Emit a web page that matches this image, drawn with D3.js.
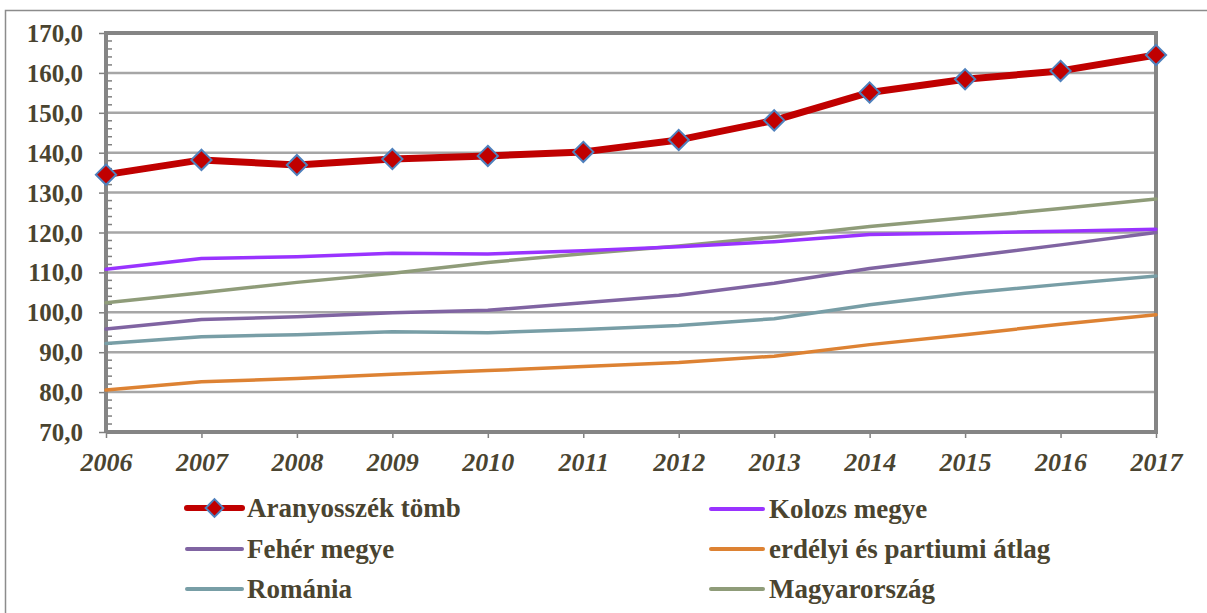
<!DOCTYPE html>
<html><head><meta charset="utf-8">
<script src="https://cdn.jsdelivr.net/npm/d3@7"></script>
<style>html,body{margin:0;padding:0;background:#fff;}</style>
</head><body>
<svg id="c" width="1207" height="613"></svg>
<script>
const years = [2006,2007,2008,2009,2010,2011,2012,2013,2014,2015,2016,2017];
const aranyosszek = [134.5,138.2,136.9,138.4,139.2,140.2,143.2,148.1,155.1,158.4,160.5,164.5];
const kolozs      = [110.8,113.5,113.9,114.8,114.6,115.4,116.4,117.7,119.5,119.9,120.3,120.8];
const feher       = [95.8,98.2,98.9,99.9,100.5,102.4,104.3,107.3,111.0,113.9,116.9,120.0];
const erdelyi     = [80.5,82.6,83.4,84.5,85.4,86.4,87.4,89.0,91.9,94.4,97.0,99.4];
const romania     = [92.2,93.9,94.4,95.1,94.9,95.7,96.7,98.4,101.9,104.8,107.0,109.1];
const magyar      = [102.4,104.9,107.5,109.8,112.5,114.7,116.6,118.9,121.5,123.7,126.0,128.4];
const yTicks = [70,80,90,100,110,120,130,140,150,160,170];
const seriesNames = ["Aranyosszék tömb","Kolozs megye","Fehér megye","erdélyi és partiumi átlag","Románia","Magyarország"];

const colors = {
  "Aranyosszék tömb":"#c00000",
  "Kolozs megye":"#9933ff",
  "Fehér megye":"#8064a2",
  "erdélyi és partiumi átlag":"#dd8233",
  "Románia":"#789ea6",
  "Magyarország":"#8f9c79"
};
const seriesData = {
  "Aranyosszék tömb":aranyosszek,
  "Kolozs megye":kolozs,
  "Fehér megye":feher,
  "erdélyi és partiumi átlag":erdelyi,
  "Románia":romania,
  "Magyarország":magyar
};
const textColor = "#4a4430";
const FONT = '"Liberation Serif"';
const svg = d3.select("#c");
const L=106, R=1156, T=33, B=432;
const x = d3.scalePoint().domain(years).range([L,R]);
const y = d3.scaleLinear().domain([70,170]).range([B,T]);

// outer border
svg.append("rect").attr("x",5.5).attr("y",10.5).attr("width",1220).attr("height",620)
  .attr("fill","#fff").attr("stroke","#8c8c8c").attr("stroke-width",1.5);

// gridlines
svg.append("g").selectAll("line").data(yTicks.filter(v=>v>70 && v<170)).join("line")
  .attr("x1",L).attr("x2",R).attr("y1",d=>y(d)).attr("y2",d=>y(d))
  .attr("stroke","#a6a6a6").attr("stroke-width",2.5);

// minor ticks inside left axis
const minor = d3.range(72,170,2).filter(v=>v%10!==0);
svg.append("g").selectAll("line").data(minor).join("line")
  .attr("x1",L).attr("x2",L+6).attr("y1",d=>y(d)).attr("y2",d=>y(d))
  .attr("stroke","#808080").attr("stroke-width",1.5);

// y axis
const fmt = d=>d3.format(".1f")(d).replace(".",",");
const yAxis = svg.append("g").attr("transform",`translate(${L},0)`)
  .call(d3.axisLeft(y).tickValues(yTicks).tickFormat(fmt).tickSize(7).tickPadding(16));
yAxis.attr("font-family",null).attr("font-size",null);
yAxis.select(".domain").remove();
yAxis.selectAll(".tick line").attr("stroke","#808080").attr("stroke-width",1.5);
yAxis.selectAll(".tick text").attr("fill",textColor).style("font-family",FONT)
  .style("font-weight","bold").style("font-size","25px").attr("dy","0.34em");

// x axis
const xAxis = svg.append("g").attr("transform",`translate(0,${B})`)
  .call(d3.axisBottom(x).tickSize(6).tickPadding(15));
xAxis.attr("font-family",null).attr("font-size",null);
xAxis.select(".domain").remove();
xAxis.selectAll(".tick line").attr("stroke","#808080").attr("stroke-width",1.5);
xAxis.selectAll(".tick text").attr("fill",textColor).style("font-family",FONT)
  .style("font-weight","bold").style("font-style","italic").style("font-size","26px");

// plot border
svg.append("path").attr("d",`M${L},${B}L${L},${T}L${R},${T}L${R},${B}L${L},${B}`)
  .attr("fill","none").attr("stroke","#858585").attr("stroke-width",4).attr("stroke-linejoin","miter");

// lines
const line = d3.line().x((d,i)=>x(years[i])).y(d=>y(d));
const drawOrder = ["Magyarország","Románia","erdélyi és partiumi átlag","Fehér megye","Kolozs megye","Aranyosszék tömb"];
drawOrder.forEach(name=>{
  const main = name==="Aranyosszék tömb";
  svg.append("path").datum(seriesData[name]).attr("d",line)
    .attr("fill","none").attr("stroke",colors[name]).attr("stroke-width",main?7:3.5)
    .attr("stroke-linejoin","round").attr("stroke-linecap","round");
});
const diamond = d3.symbol().type(d3.symbolDiamond2).size(260);
svg.append("g").selectAll("path").data(aranyosszek).join("path")
  .attr("transform",(d,i)=>`translate(${x(years[i])},${y(d)})`)
  .attr("d",diamond).attr("fill","#c00000").attr("stroke","#4f81bd").attr("stroke-width",2);

// legend
const legendPos = [
  {name:"Aranyosszék tömb", x1:187, x2:242, tx:247, y:508},
  {name:"Kolozs megye", x1:711, x2:763, tx:769, y:509},
  {name:"Fehér megye", x1:187, x2:242, tx:247, y:549},
  {name:"erdélyi és partiumi átlag", x1:711, x2:763, tx:769, y:549},
  {name:"Románia", x1:187, x2:242, tx:247, y:589},
  {name:"Magyarország", x1:711, x2:763, tx:769, y:589}
];
legendPos.forEach(p=>{
  const main = p.name==="Aranyosszék tömb";
  svg.append("line").attr("x1",p.x1).attr("x2",p.x2).attr("y1",p.y).attr("y2",p.y)
    .attr("stroke",colors[p.name]).attr("stroke-width",main?6:4).attr("stroke-linecap","round");
  if(main){
    svg.append("path").attr("transform",`translate(${(p.x1+p.x2)/2},${p.y})`).attr("d",d3.symbol().type(d3.symbolDiamond2).size(200))
      .attr("fill","#c00000").attr("stroke","#4f81bd").attr("stroke-width",2);
  }
  svg.append("text").attr("x",p.tx).attr("y",p.y+9)
    .style("font-family",FONT).style("font-weight","bold").style("font-size","27px")
    .attr("fill",textColor).text(p.name);
});
</script>
</body></html>
